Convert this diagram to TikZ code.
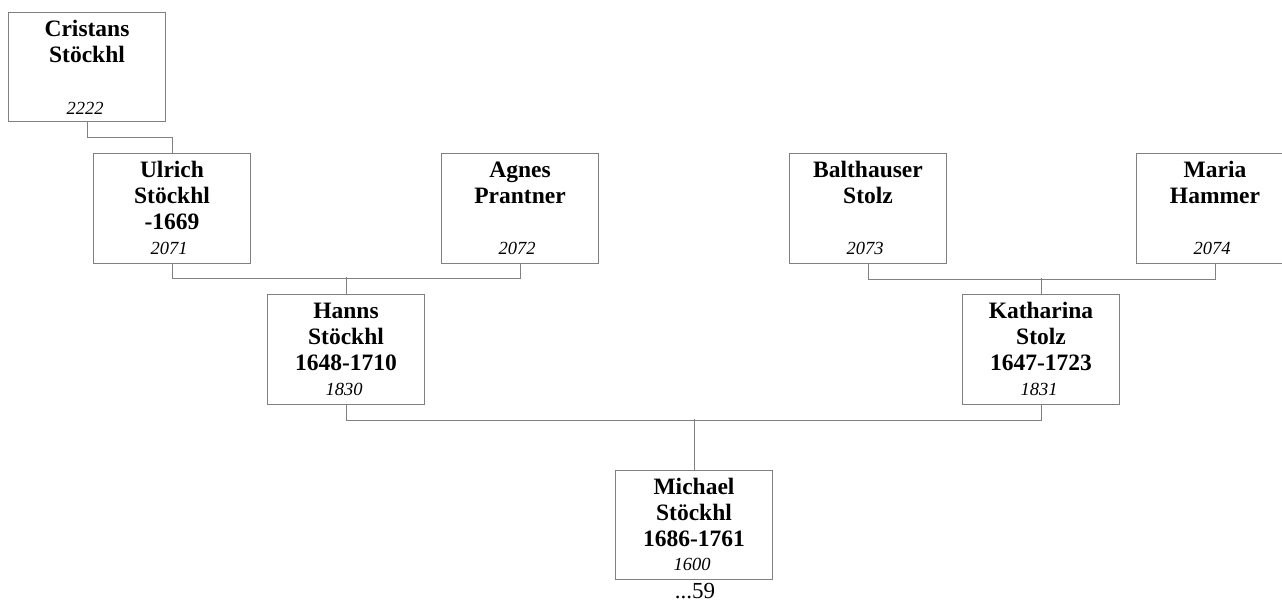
\documentclass[tikz,border=0pt]{standalone}
\usepackage{fontspec}
\setmainfont{Liberation Serif}
\usetikzlibrary{calc}
\definecolor{edgegray}{RGB}{128,128,128}
\tikzset{
  x=1pt, y=-1pt,
  person/.style={draw=edgegray, line width=1pt, fill=white, rectangle, minimum width=157pt, minimum height=110pt, inner sep=0pt, anchor=north west},
  pname/.style={anchor=north, inner sep=0pt, align=center, font=\bfseries\fontsize{23.5}{26}\selectfont},
  pnum/.style={anchor=base, inner sep=0pt, font=\itshape\fontsize{18.5}{20}\selectfont},
  link/.style={draw=edgegray, line width=1pt}
}
\newcommand{\fl}{\rule{0pt}{24pt}}
\begin{document}
\begin{tikzpicture}
\useasboundingbox (0,0) rectangle (1282,602);
\clip (0,0) rectangle (1282,602);
% boxes
\node[person, minimum height=109pt] (c) at (8,12) {};
\node[person] (u) at (93,153) {};
\node[person] (a) at (441,153) {};
\node[person] (b) at (789,153) {};
\node[person] (m) at (1136,153) {};
\node[person] (h) at (267,294) {};
\node[person] (k) at (962,294) {};
\node[person, minimum height=109pt] (mi) at (615,470) {};
% names
\node[pname] (ct) at (c.north) {\fl Cristans\\Stöckhl};
\node[pname] (ut) at (u.north) {\fl Ulrich\\Stöckhl\\-1669};
\node[pname] (at) at (a.north) {\fl Agnes\\Prantner};
\node[pname] (bt) at (b.north) {\fl Balthauser\\Stolz};
\node[pname] (mt) at (m.north) {\fl Maria\\Hammer};
\node[pname] (ht) at (h.north) {\fl Hanns\\Stöckhl\\1648-1710};
\node[pname] (kt) at (k.north) {\fl Katharina\\Stolz\\1647-1723};
\node[pname] (mit) at (mi.north) {\fl Michael\\Stöckhl\\1686-1761};
% numbers
\node[pnum] (cn) at ($(c.south)+(-2,-8)$) {2222};
\node[pnum] (un) at ($(u.south)+(-3,-10)$) {2071};
\node[pnum] (an) at ($(a.south)+(-3,-10)$) {2072};
\node[pnum] (bn) at ($(b.south)+(-3,-10)$) {2073};
\node[pnum] (mn) at ($(m.south)+(-3,-10)$) {2074};
\node[pnum] (hn) at ($(h.south)+(-2,-10)$) {1830};
\node[pnum] (kn) at ($(k.south)+(-2,-10)$) {1831};
\node[pnum] (min) at ($(mi.south)+(-2,-10)$) {1600};
\node[anchor=base, inner sep=0pt, font=\fontsize{23}{26}\selectfont] (more) at ($(mi.south)+(1,18)$) {...59};
% connectors
\draw[link] (c.south) -- ++(0,15) -| (u.north);
\draw[link] (u.south) -- ++(0,14) -| (a.south);
\draw[link] (h.north) -- ++(0,-17);
\draw[link] (b.south) -- ++(0,15) -| (m.south);
\draw[link] (k.north) -- ++(0,-16);
\draw[link] (h.south) -- ++(0,15) -| (k.south);
\draw[link] (mi.north) -- ++(0,-51);
\end{tikzpicture}
\end{document}
